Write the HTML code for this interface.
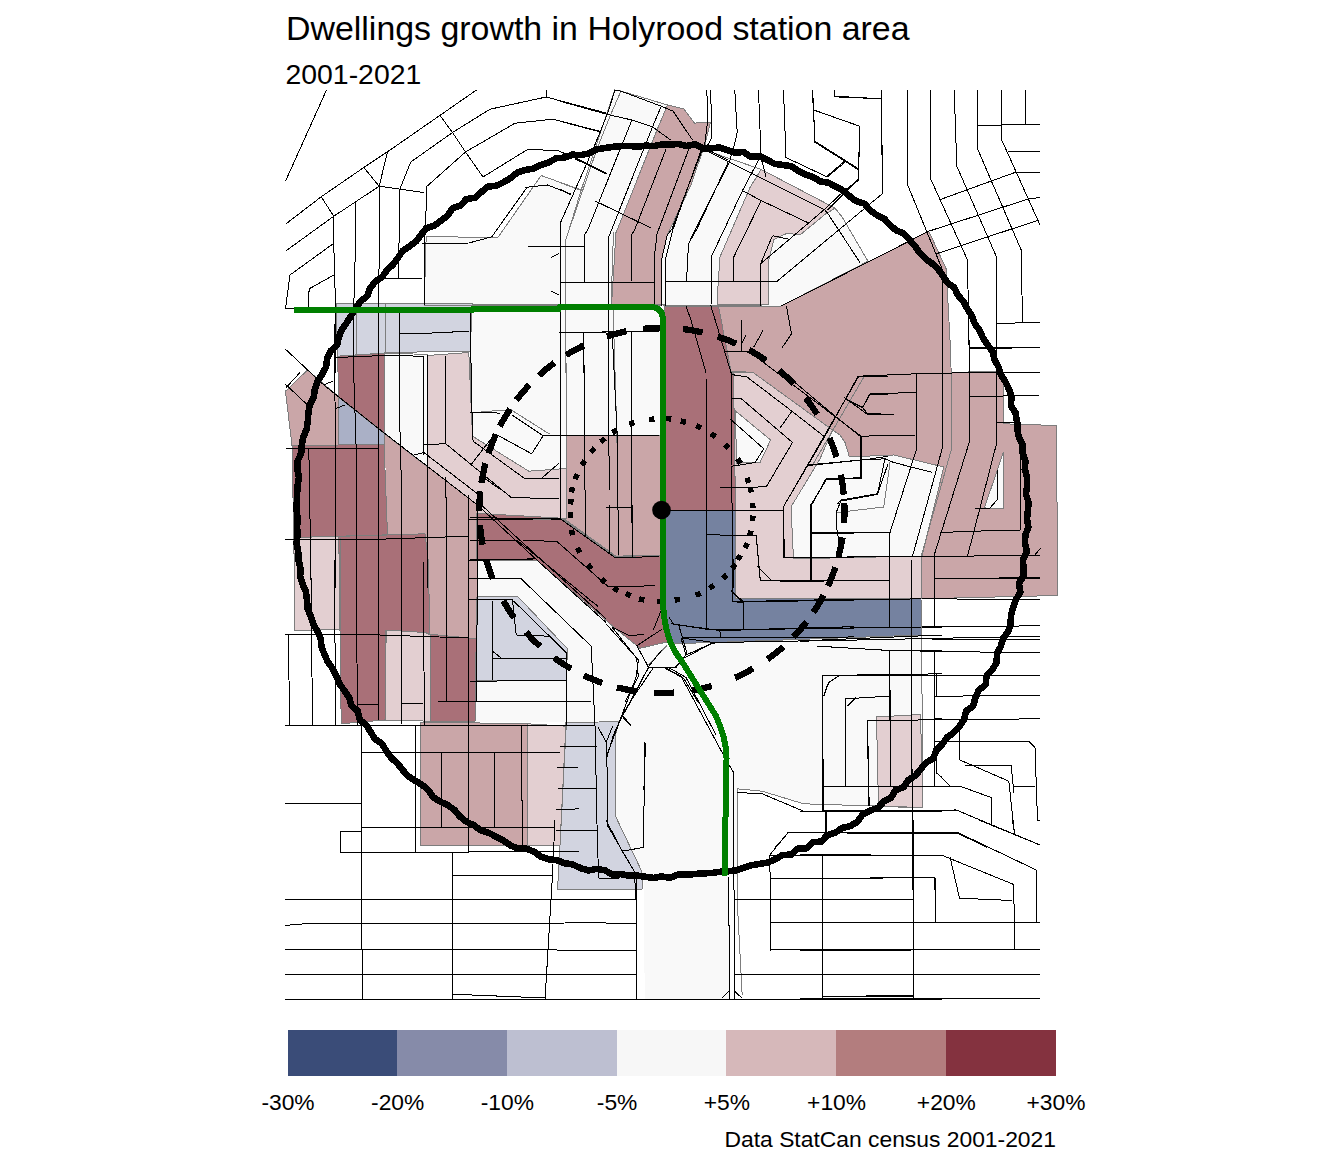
<!DOCTYPE html>
<html><head><meta charset="utf-8"><title>Dwellings growth in Holyrood station area</title>
<style>
html,body{margin:0;padding:0;background:#fff;}
body{width:1344px;height:1152px;overflow:hidden;font-family:"Liberation Sans",sans-serif;}
svg{display:block}
text{font-family:"Liberation Sans",sans-serif;fill:#000}
</style></head><body>
<svg width="1344" height="1152" viewBox="0 0 1344 1152">
<rect width="1344" height="1152" fill="#fff"/>
<defs><clipPath id="c"><rect x="285" y="89" width="776" height="911"/></clipPath></defs>
<g clip-path="url(#c)">

<g shape-rendering="crispEdges" stroke="none">
<path d="M426.2 236.2 L497.5 238 L541.2 175.5 L581.2 190 L614.8 90 L621 91 L667.5 105 L657.5 128.8 L617.5 229 L616 232.5 L611.5 305 L424.2 305Z" fill="#F9F9F9"/>
<path d="M705 150 L761.2 169.4 L835 208.1 L842.5 217.5 L868 261.2 L781 306.2 L661.5 305 L661.5 260 L667.2 235 L691 185 L705 143.8Z" fill="#F9F9F9"/>
<path d="M385 353 L427.5 354.5 L427.5 466.8 L384.5 433.8Z" fill="#F9F9F9"/>
<path d="M472.5 304 L664 304 L664 435 L566 435 L566 468.5 L528.8 471.2 L472.5 436.2 L470 351.2Z" fill="#F9F9F9"/>
<path d="M477 560 L536.7 560 L613.3 626.7 L640 648.3 L638.5 660 L606 722.5 L475 721.5Z" fill="#F9F9F9"/>
<path d="M606 622.5 L638.5 648.8 L668.5 643.8 L713.5 642.5 L921.5 635 L923 807.5 L803.5 803.8 L762.2 791.2 L737.2 788.8 L737.2 877 L728.5 877.5 L729.8 1000 L644.8 1000 L643.5 877.5 L615.2 815.5 L615.6 734.7 L619 721.7 L606 722.5 L638.5 660Z" fill="#F9F9F9"/>
<path d="M832.5 430 L840 435 L845 442.5 L849.4 456.9 L893.8 455 L943.8 467 L922 556 L793.5 558.8 L791 507 L820 458.8Z" fill="#F9F9F9"/>
<path d="M667.5 105 L683.8 108.8 L694.4 123.1 L710.6 122.2 L705 143.8 L691 185 L667.2 235 L661.5 260 L661.5 305 L611.5 305 L616 232.5 L617.5 229 L657.5 128.8Z" fill="#CAA6A8"/>
<path d="M761.2 169.4 L835 208.1 L825 214.4 L800 235 L787.5 233.1 L773.8 239.4 L768.8 260 L768.5 304 L717.2 304 L718.1 284 L720 256.9 L750 187.5Z" fill="#E3CFD1"/>
<path d="M718.5 306.2 L781 306.2 L928.8 231.2 L946.2 268.8 L950 340 L951.2 372.5 L996.2 371.2 L1003.8 373.8 L1003.8 423.8 L1056.2 425.5 L1058 595.5 L921.2 598.8 L922 556.2 L943.8 467 L893.8 455 L849.4 456.9 L845 442.5 L840 435 L832.5 430 L753.1 372.5 L731 371Z" fill="#CAA6A8"/>
<path d="M1003.2 452 L1004 508 L989.5 509 L984.5 507.5 L997 471Z" fill="#F9F9F9"/>
<path d="M664.5 306 L718.5 306.2 L731 371 L733.5 374 L735.5 510 L664.5 510Z" fill="#A97078"/>
<path d="M664.5 510 L735.5 510 L736 598.8 L921 598.8 L921.5 635 L713.5 642.5 L668.5 643.8 L664.5 625Z" fill="#7582A0"/>
<path d="M733.5 372 L753.1 372.5 L832.5 430 L820 458.8 L791 507 L793.5 558.8 L922 556 L921.2 598.8 L736 598.8 L735.5 510Z" fill="#E3CFD1"/>
<path d="M735 410.6 L770.6 440 L760 462.5 L736.9 463.1Z" fill="#F9F9F9"/>
<path d="M336.2 303.8 L472.5 303.8 L470 351.2 L385 352.5 L385 353.2 L337.5 356.2Z" fill="#D2D4E0"/>
<path d="M285.5 391.2 L307.5 370 L338 396.2 L338.8 445 L292 445.5Z" fill="#CAA6A8"/>
<path d="M337.5 356.2 L385 353 L384.5 433 L338.8 397Z" fill="#A97078"/>
<path d="M338.8 397.5 L384.5 433.5 L384 444 L338.8 445Z" fill="#AAB0C6"/>
<path d="M292 445.5 L338.8 445 L384 444 L387.5 535 L293.8 537.5Z" fill="#A97078"/>
<path d="M384.5 433.8 L477.5 505.5 L477 588 L428.8 588 L425 533.8 L387.5 535Z" fill="#CAA6A8"/>
<path d="M427.5 355.5 L468.8 352.5 L472.5 436.2 L528.8 471.2 L566 468.5 L566.5 518.8 L477.5 520 L477.5 505 L427.5 466.5Z" fill="#E3CFD1"/>
<path d="M566.2 435 L664 435 L664 555 L614.8 556.2 L563 519.5 L566.5 519Z" fill="#CAA6A8"/>
<path d="M476.7 513.3 L563.3 518.3 L616.7 556.7 L664 555 L664 613.3 L668 641.7 L640 648.3 L613.3 626.7 L536.7 560 L476.7 560Z" fill="#A97078"/>
<path d="M293.8 537.5 L340 536.2 L340.8 629.5 L295 630.5Z" fill="#E3CFD1"/>
<path d="M338.8 536.2 L425 533.8 L428.2 560 L430 633.8 L425 632.5 L386.2 630 L385 720 L341.2 723.8Z" fill="#A97078"/>
<path d="M385 630 L425 632.5 L430 635 L430 721.2 L385 720Z" fill="#E3CFD1"/>
<path d="M430 634.2 L468.8 638 L477 638.8 L475 721.2 L430 721.2Z" fill="#A97078"/>
<path d="M428.2 547.5 L477 547.5 L477 638.8 L468.8 638 L430 634.2Z" fill="#CAA6A8"/>
<path d="M477 597 L517.5 596.2 L567.5 648.8 L566.2 680 L475.5 680.5Z" fill="#D2D4E0"/>
<path d="M420 722 L527.5 723.8 L527.5 845 L420 845Z" fill="#CAA6A8"/>
<path d="M527.5 723.8 L566.2 726.2 L560 845 L527.5 845Z" fill="#E3CFD1"/>
<path d="M566 722.5 L619 721.7 L615.6 734.7 L615.2 815.5 L641.6 871 L642.5 889 L557.5 890 L560 845Z" fill="#D2D4E0"/>
<path d="M876.5 717 L920.5 714.5 L923 808 L878.5 806.2Z" fill="#E3CFD1"/>
</g>
<g shape-rendering="crispEdges" fill="none" stroke="#7d7d7d" stroke-width="1">
<path d="M426.2 236.2 L497.5 238 L541.2 175.5 L581.2 190 L614.8 90 L621 91 L667.5 105 L657.5 128.8 L617.5 229 L616 232.5 L611.5 305 L424.2 305Z"/>
<path d="M705 150 L761.2 169.4 L835 208.1 L842.5 217.5 L868 261.2 L781 306.2 L661.5 305 L661.5 260 L667.2 235 L691 185 L705 143.8Z"/>
<path d="M385 353 L427.5 354.5 L427.5 466.8 L384.5 433.8Z"/>
<path d="M472.5 304 L664 304 L664 435 L566 435 L566 468.5 L528.8 471.2 L472.5 436.2 L470 351.2Z"/>
<path d="M832.5 430 L840 435 L845 442.5 L849.4 456.9 L893.8 455 L943.8 467 L922 556 L793.5 558.8 L791 507 L820 458.8Z"/>
<path d="M667.5 105 L683.8 108.8 L694.4 123.1 L710.6 122.2 L705 143.8 L691 185 L667.2 235 L661.5 260 L661.5 305 L611.5 305 L616 232.5 L617.5 229 L657.5 128.8Z"/>
<path d="M761.2 169.4 L835 208.1 L825 214.4 L800 235 L787.5 233.1 L773.8 239.4 L768.8 260 L768.5 304 L717.2 304 L718.1 284 L720 256.9 L750 187.5Z"/>
<path d="M718.5 306.2 L781 306.2 L928.8 231.2 L946.2 268.8 L950 340 L951.2 372.5 L996.2 371.2 L1003.8 373.8 L1003.8 423.8 L1056.2 425.5 L1058 595.5 L921.2 598.8 L922 556.2 L943.8 467 L893.8 455 L849.4 456.9 L845 442.5 L840 435 L832.5 430 L753.1 372.5 L731 371Z"/>
<path d="M1003.2 452 L1004 508 L989.5 509 L984.5 507.5 L997 471Z"/>
<path d="M664.5 306 L718.5 306.2 L731 371 L733.5 374 L735.5 510 L664.5 510Z"/>
<path d="M664.5 510 L735.5 510 L736 598.8 L921 598.8 L921.5 635 L713.5 642.5 L668.5 643.8 L664.5 625Z"/>
<path d="M733.5 372 L753.1 372.5 L832.5 430 L820 458.8 L791 507 L793.5 558.8 L922 556 L921.2 598.8 L736 598.8 L735.5 510Z"/>
<path d="M735 410.6 L770.6 440 L760 462.5 L736.9 463.1Z"/>
<path d="M336.2 303.8 L472.5 303.8 L470 351.2 L385 352.5 L385 353.2 L337.5 356.2Z"/>
<path d="M285.5 391.2 L307.5 370 L338 396.2 L338.8 445 L292 445.5Z"/>
<path d="M337.5 356.2 L385 353 L384.5 433 L338.8 397Z"/>
<path d="M338.8 397.5 L384.5 433.5 L384 444 L338.8 445Z"/>
<path d="M292 445.5 L338.8 445 L384 444 L387.5 535 L293.8 537.5Z"/>
<path d="M427.5 355.5 L468.8 352.5 L472.5 436.2 L528.8 471.2 L566 468.5 L566.5 518.8 L477.5 520 L477.5 505 L427.5 466.5Z"/>
<path d="M566.2 435 L664 435 L664 555 L614.8 556.2 L563 519.5 L566.5 519Z"/>
<path d="M476.7 513.3 L563.3 518.3 L616.7 556.7 L664 555 L664 613.3 L668 641.7 L640 648.3 L613.3 626.7 L536.7 560 L476.7 560Z"/>
<path d="M293.8 537.5 L340 536.2 L340.8 629.5 L295 630.5Z"/>
<path d="M338.8 536.2 L425 533.8 L428.2 560 L430 633.8 L425 632.5 L386.2 630 L385 720 L341.2 723.8Z"/>
<path d="M385 630 L425 632.5 L430 635 L430 721.2 L385 720Z"/>
<path d="M430 634.2 L468.8 638 L477 638.8 L475 721.2 L430 721.2Z"/>
<path d="M477 597 L517.5 596.2 L567.5 648.8 L566.2 680 L475.5 680.5Z"/>
<path d="M420 722 L527.5 723.8 L527.5 845 L420 845Z"/>
<path d="M527.5 723.8 L566.2 726.2 L560 845 L527.5 845Z"/>
<path d="M566 722.5 L619 721.7 L615.6 734.7 L615.2 815.5 L641.6 871 L642.5 889 L557.5 890 L560 845Z"/>
<path d="M876.5 717 L920.5 714.5 L923 808 L878.5 806.2Z"/>
<path d="M620.9 91.2 L610 116.2 L597.5 147.5 L569.4 229"/>
<path d="M560 182.5 L581.2 190.6"/>
<path d="M581.2 190 L565.8 240 L565.8 373"/>
<path d="M613.5 232 L611 306"/>
<path d="M565.3 305.3 L566.9 435"/>
<path d="M613 305.3 L616.9 435 L617.7 490"/>
<path d="M480.9 411.6 L511.4 410 L549.7 434.2"/>
<path d="M737.2 787.5 L737.2 900 L742.2 995"/>
<path d="M618.3 510 L618.3 556.7"/>
<path d="M385 303.8 L385 353"/>
<path d="M356.2 303.8 L356.2 355.5"/>
<path d="M890 462.5 L883.8 507 L837.5 512.5"/>
<path d="M951.2 372.5 L951.2 450 L921.2 556.2"/>
<path d="M865 375 L812.5 465"/>
<path d="M921.5 635 L923 807.5 L803.5 803.8 L762.2 791.2 L737.2 788.8 L737.2 820"/>
<path d="M667 645.3 L648 665.1"/>
</g>
<g shape-rendering="crispEdges" fill="none" stroke="#000" stroke-width="1">
<path d="M326.5 90 L285.5 181.2 M476.5 90 L387.5 151.8 L363.8 167.5 L321.2 196.8 L285.5 224.2 M440 115.5 L452.5 132.5 L465.5 152 L483 177 L527.5 149.5 L557.5 150.5 L580 160 L606 173 M546.2 90 L546.2 97 L490 109.2 L452.5 132.5 L410.8 162 L400 188.8 M546.2 97 L606 113 M600 131.2 L552.5 119.2 L515 123.2 L465.5 152 L426.2 187 L426.2 207.5 L424.2 245 L424.2 305 M387.5 151.8 L379.2 186.2 L363.8 167.5 M379.2 186.2 L423.8 192.5 M379.2 186.2 L378.8 373 M399.2 188.8 L399.2 235 L398.2 278.8 M378.8 278.8 L421.8 278.8 M321.2 196.8 L333.8 216.2 L379.2 186.2 M333.8 216.2 L285.5 251.2 M333.8 216.2 L333.8 245 L335.5 305 L335.5 373 M355.5 200.5 L355.5 245 L353.8 305 L353.8 373 M332.5 244.2 L290 275 L285.5 308.8 L295 308.8 M333.8 275 L309.2 288.8 L308 307.5 M525 187.5 L547.5 185 L571.2 194.2 M422.5 243.8 L468.8 243 L491.2 237 M560 223.8 L560 373 M584.5 236.2 L584.5 282.5 M527.5 246.2 L584.5 246.2 M560 282.5 L606 282.5 M551.2 257.5 L558.8 253.8 M551.2 291.2 L558.8 295 M560 332.5 L606 332.5 M583.8 332.5 L583.8 373 M615 90.2 L607.2 114.4 L593.8 147.5 L575.6 188.8 L560 223.8 M615 90.2 L621.2 91.2 L661.2 106.2 L673.1 111.2 L692.5 140 M706.9 90.2 L707.5 122.5 L705 142.5 L671.9 229 M710.6 90.2 L711.5 120 L711.5 137.5 L708.8 143.8 L701.2 150 L673.1 229 M560 101.2 L607.2 114.4 L631.9 120 L652.5 126.9 L670.6 140 M560 121.2 L601.2 132.2 M631.9 120 L588.1 229 M661.2 106.2 L652.5 126.9 L611.9 229 M666.2 148.8 L635 229 M689.4 147.5 L658.8 229 M708.8 150.6 L728 160 M728 162.5 L696.9 229 M575 158.8 L607.5 174.4 M560 188.8 L571.2 195 M595.6 201.2 L651.2 228.1 M588.1 229 L584.5 235 L584.5 282.5 M611.9 229 L608.5 237.5 L608.5 373 M635 229 L631 236 L631 281 M658.8 229 L657.2 232.5 L654 260 L654 305 M672 229 L667.2 235 L661.5 260 L661.5 306 M673 229 L665.2 260 L665.2 306 M696.9 229 L688.5 243.8 L686.5 281.2 M606 282.5 L653.5 282.5 M665.2 281.2 L777.2 281.2 L882.2 193.8 L881.8 90 M760 140 L760.6 156.2 L742.5 190.6 L711.9 255.6 L711 306 M734.8 90 L737.2 132.5 L735.6 140 L729.4 161.9 L700 220 L688.5 243.8 M758.5 90 L760.5 142.5 M761.2 200.6 L733.8 256.9 L733.5 281.2 M772.5 235.6 L789.4 239.4 M772.5 235.6 L760.6 263.8 L760.5 306 M760.6 263.8 L823.8 210 L845 190 L858.8 180 L858.5 168.8 L814.8 141.2 L813.5 110 L812.2 90 M813.5 110 L859.8 126.2 L858.5 168.8 M783.5 90 L786 157.5 L827.2 177 L844.8 162.5 M700 147.5 L728.8 161.9 L751.2 173.1 L825 210 L828.8 215 L860 262.5 M742.5 190.6 L761.2 200.6 L808.8 223.1 M760.6 156.2 L766.2 177.5 M834.2 90 L834.2 96.2 L881.8 98.8 M781 306.2 L928.8 231.2 L1028.8 198.8 L1040 197.5 M812.5 90 L813.8 110 L814.5 142 L858.8 170 L858.8 178.8 L827.5 210 M813.8 110 L859.5 126.2 L858.8 170 M844.5 161.2 L826.2 177 M834.2 90 L834.2 96.8 L881.2 98.8 M881.2 90 L882.5 193.8 M907.5 90 L907.5 184.5 L942.5 270 L942.5 373 M930 90 L930 177.5 L967.5 260 L969.5 373 M954.2 90 L956.8 166.2 L996.2 256.2 L996.2 373 M977.5 90 L977.5 148.8 L1021.2 250 L1022.5 322.5 M1001.2 90 L1001.2 138.8 L1040 225 M1025.5 90 L1025.5 125 M977.5 125.5 L1040 124.2 M1007.5 151.2 L1040 151.2 M1016.2 172 L1040 172 M941.2 199.2 L1016.2 172 M936.2 253.8 L1037.5 220.5 M996.2 323.8 L1040 322 M969.5 348 L1040 347 M335.5 300 L334.5 350 L335.5 450 L335.5 588 M353.8 300 L353.2 357.5 L356.2 450 L357 588 M378.8 300 L378.8 588 M399.2 312.5 L399.2 400 L401.8 500 L401.8 588 M400 333 L432.5 333 L468.8 331.2 M336.2 357.5 L385 355.5 L423 356.2 L423 455 M427 355.5 L428 588 M445.8 355.5 L445.8 443.8 M445.8 477.5 L447 588 M470 312.5 L472 412.5 L473 437.5 M423.8 444.5 L445.8 443.8 L511.2 497.5 L558.8 498.8 M285.5 448.2 L377.5 448.2 M285.5 540 L380 539.2 L468.8 536.2 M308.8 448.2 L311.2 588 M468.8 495 L468.8 588 M468.8 519.5 L560 518.8 M468.8 560.5 L535 558.8 M413.8 455 L423.8 452.5 L477.5 493.8 M285 348.8 L305 367.5 L323.8 385 L378.8 428.8 L477.5 505 L536.8 560 L606 622.5 M480 503.8 L606 618.8 M285 383.8 L307.5 405 M300 372.5 L286.2 387.5 M323.8 385 L332.5 381.2 M335 408.8 L345 405 M560.6 305.3 L560.6 490 M583.8 332.7 L584.8 490 M608.6 305.3 L609.1 490 M631.7 331.1 L631.7 490 M559.1 332.7 L659.1 331.1 M543.4 435 L659.1 435 M470 412.3 L500.5 413.1 M511.4 414.7 L543.1 435.8 L531.7 453.8 L495 433.8 L471.6 463.9 M472.3 428.8 L473.1 441.2 L523.9 478 L559.1 478 M541.9 478 L559.1 463.1 M484.1 478 L501.2 490 M686 306.2 L691 320 L706 372.5 L706.5 588 M711 306.2 L731 372.5 L731 465 L732.2 510 L733.5 588 M741 320 L741 351.2 M723.5 351.2 L748.5 351.2 L861 436.2 L861 478.8 L826 478.8 L811 506.2 L811 581.2 M741 345 L746 335 M753.5 347.5 L763 330.5 M786.5 306.2 L791.5 333.8 L782.2 347.5 M606 507 L631 507 M631 332 L632.2 557.5 M612.2 332 L617.2 435 L618.5 555 M606 435 L659 435 M730.6 374.4 L746.9 376.9 L791.9 411.2 L823.8 436.2 M791.9 411.2 L780 428.1 M730.6 398.1 L740.6 398.1 L792.5 442.5 L766.2 486.9 L720 487.5 M730.6 419.4 L763.8 448.8 L755 462.5 L736.9 465.6 L730.6 466.2 M858.1 376.2 L888 376.2 M858.1 376.2 L825 436.2 L785 504 M844.4 397.5 L867.5 414.4 L888 414.4 M870 394 L862.5 408.1 M870 394 L888 394 M807.5 465.6 L867.5 459.4 L888 456.2 M888 463.8 L877.5 494.4 L840 501.2 L837.5 504 M858.8 376.2 L916.2 373.8 L997 372 L1040 372.5 M858.8 376.2 L807.5 465 L783.8 506.2 L783.8 557.5 L1040 555.5 M916.2 373.8 L916.2 450 L890 532.5 L889.5 628 M942.5 340 L942.5 447.5 L912.5 556.2 M969.2 340 L969.2 442.5 L935 552.5 L934.5 628 M996.2 340 L996.2 445 L967.5 556.2 M997 422.5 L1020 422.5 L1020 530 L973.8 531.2 L940 532.5 M969.2 396.2 L996.2 396.2 L1040 395 M969.2 348.8 L1040 347.5 M870 393.8 L916.2 392.5 M870 393.8 L862.5 407.5 L867.5 413.8 L893.8 414.2 M845 398.8 L862.5 407.5 M860 436.2 L916.2 435 M860 436.2 L860 477.5 L826.2 480 L810 506.2 L810 581.2 M780 370 L833.8 415 L860 436.2 M807.5 465 L861.2 460 L885 458.8 L893.8 462.5 L932.5 472.5 M885 458.8 L877.5 493.8 L841.2 500 L836.2 512.5 L836.2 525 L841.2 556.2 M810 533 L890 532.5 M780 582 L810 581.2 L889.5 580 M935 578.8 L1040 577.5 M975 508 L990 508 L997 500 L997 470 M1033.8 556.2 L1041.2 547.5 M288 634.2 L290 725 M310.8 560 L312.5 725 M334.5 560 L335.5 725 M356.2 560 L357.5 725 M378 560 L378.8 720 M401.8 560 L401.8 723.8 M423 560 L424.5 725 M446.5 560 L447 702 M468.8 560 L468.8 848 M285 634.2 L380 635 L468.8 638 M285 725 L595 725 M357.5 704.5 L378 704.5 M401.8 703.8 L423 703.8 M438 702 L591.2 701.2 M470 681.2 L566.2 680.5 M468.8 599.5 L512.5 600 M468.8 578.8 L521.2 578.8 L591.2 646.2 L595 725 L597.5 848 M492.5 601.2 L492.5 680 M492.5 658.8 L566.2 658 M492.5 651.2 L501.2 658 M512.5 600 L516.2 635 L548.8 636.2 M513.8 601.2 L566.2 652.5 L566.2 725 M361.2 725 L361.2 848 M415 725 L415 848 M361.2 753 L560 752.5 M441.2 752.5 L441.2 827 M494.2 752.5 L494.2 827 M361.2 827 L555 828 M285 803.8 L361.2 803 M340.8 831.2 L361.2 831.2 M340.8 831.2 L340.8 848 M521.2 726.2 L522.5 845 M560 746.2 L597.5 747 M557.5 767.5 L578.8 767 M557.5 788 L597.5 788.8 M556.2 810 L578.8 808.8 M555 830 L597.5 830.5 M911.5 560 L912.2 848 M889.2 560 L889.2 627 M889.8 650.5 L890.5 786.2 M921.5 627 L942 627 M743.5 602 L743.5 628.8 M706.8 560 L706.8 628.8 M671 623.8 L719.8 630.5 L793.5 628.8 L921.5 627 M719.8 630.5 L721 638 M682.2 638 L713.5 642.5 L793.5 641.2 L942 635 M818.5 646.2 L889.8 650.5 L942 650.5 M822.2 675.5 L942 673.8 M822.2 675.5 L823.5 811.2 M839.8 675 L828.5 682.5 L823.5 696.2 M845.5 698.8 L888.5 696.2 M845.5 698.8 L845.5 786.2 M856 697.5 L847.2 706.2 M867.2 720.5 L913.5 720 M867.2 720.5 L869 806.2 M822.2 786.2 L942 786.2 M737.2 792.5 L762.2 793.8 L803.5 811.2 L942 811.2 M826 811.2 L826 832.5 M788.5 832.5 L942 833.8 M788.5 832.5 L774.8 848 M936 673.8 L936 696.2 L942 696.2 M933.5 718.8 L942 718.8 M936 755 L936 772.5 L942 777.5 M606 623.8 L638.5 660 L636 677.5 L606 757.5 M638.5 648.8 L648.5 667.5 L676 667.5 L686 655 L681 638 M648.5 667.5 L635.5 693 L622.5 714.5 L613.5 735 L606 760 M653.5 667.5 L632.2 698.8 L620.8 718.8 L612.5 740 L606.8 756.8 M664.8 667.5 L681 676.2 L723.5 755 L733.5 772.5 L733.5 848 M668.5 667.5 L686 677.5 L716 735 M644.8 742.5 L643.5 848 M686 655 L711 643.8 M621 715 L631 726.2 M733.5 592.5 L743.5 602 L921 598.8 M911.2 560 L911.2 670 L912.5 848 M889.5 560 L889.5 627 M889.5 650.5 L890.5 786.2 M934.5 560 L934.5 627 M934.5 651.2 L935 786.2 M800 581.2 L889.5 580.5 M934.5 578.8 L1040 578 M921.8 598.8 L1040 599.5 M800 628.8 L921.8 627 L1040 625.8 M800 641.2 L1040 636.2 M817.5 646.2 L889.5 650.5 L1040 653 M932.5 640 L1040 639.5 M822.5 675.5 L1040 675 M822.5 675.5 L822.5 811.2 M840 675 L828.8 682.5 L823.8 696.2 M845.5 698.8 L888.8 696.2 M845.5 698.8 L845.5 786.2 M856.2 697.5 L847.5 706.2 M867.5 720.5 L1040 718.8 M867.5 720.5 L869.2 806.2 M822.5 786.2 L960 786.2 L991.2 797.5 L991.2 825 M800 811.2 L956.2 810 L1040 845 M825 811.2 L825 832.5 M800 832.5 L958.8 833.8 L987.5 847.5 M935 696.2 L1040 695.5 M935 741.2 L1028.8 741.2 L1035 747.5 L1037.5 820 L1040 820 M959.5 730 L960 760 L1008.8 781.2 L1014.5 833.8 M965 765 L1011.2 765.5 L1013.8 792.5 M1012.5 786.2 L1035 786.2 M936.2 772.5 L950 786.2 M340.8 831.2 L361.2 831.2 M340.8 831.2 L340.8 852.5 L468.8 852 M361.2 820 L361.2 862.5 L362.5 1000 M415.5 820 L415.5 852 M468.8 820 L468.8 852 L578.8 851.2 M452.5 852 L452.5 1000 M452.5 875 L552.5 875.5 M555 820 L552.5 875 L545 1000 M285 899.5 L606 899.5 M285 925.5 L303.8 923.8 L500 923.8 L606 922.5 M285 949.5 L507.5 949.5 L606 950.5 M285 974.5 L606 974.5 M285 999.5 L606 999.5 M452.5 994.2 L545 998 M361.2 827.5 L555 827.5 M636 877.5 L636.5 1000 M606 899.5 L636 899.5 M606 923 L636 923 M606 950.5 L636 950.5 M606 974.5 L636 974.5 M606 999.5 L942 999 M643.5 820 L643 847.5 L622.2 851.2 M606 820 L622.2 851.2 L633.5 870 M728.5 877.5 L729.8 1000 M733.5 820 L734.8 1000 M722.2 998 L729 991.2 M734.8 991.2 L741.8 998 M734.8 900 L913.5 899.5 M769.8 855 L771 950 L942 949.5 M769.8 855 L942 855.8 M769.8 855 L788 832.5 L942 833.8 M825.5 820 L825.5 832.5 M822.2 855 L822.8 1000 M913 820 L914 1000 M769.8 878.8 L934.8 877.5 L935.5 922.5 M769.8 922.5 L942 922.5 M734.8 974.5 L942 974.5 M822.2 996.2 L913.5 997 M825 820 L825 832.5 M800 832.5 L958.8 833 L1036.2 870 L1036.2 922.5 M978.8 820 L1040 845 M1012.5 820 L1014.5 833.8 M800 854.5 L942.5 855.5 L1013.8 884.5 L1014.5 949.5 M950 857 L959.5 898.2 L1012.5 900.5 M822.5 854.5 L822.5 1000 M912.5 820 L913.8 1000 M800 878.8 L935 877.5 L935.8 922.5 M822.5 900 L913.8 899.5 M800 922.5 L1040 922.5 M800 950.5 L907.5 950.5 L913.8 949.5 L1040 949.5 M800 974.5 L1040 974.5 M800 999 L1040 998 M822.5 996.2 L913.8 995.8 M706.7 534.7 L732 535.3 L756.2 535.3 L760.3 580.8 L854 580.8 M732 510 L732 601.7 L743.7 602.5 L743.7 629.2 M757 565.8 L772 580.8 M731.2 590.8 L742 601.7 M783.3 510 L784.5 557.5 L854 557.2 M810.3 510 L810.3 580.8 M810.3 533.3 L854 533.3 M732 601.7 L854 599.2 M668.7 616.7 L673.7 624.2 L706.7 629.2 L762 629.2 L854 626.7 M682 637.5 L828.7 638 L854 636.7 M678.7 625 L687 653.3 L683.7 658.3 L712 643.3 L720.3 642.5 M662 667.5 L674.5 667.5 L683.7 658.3 M665.3 668.3 L683.7 678.3 L697.8 702 M470 517.5 L560.8 519.2 L615 557.5 L659.2 556.7 M477.5 510 L476.7 702 M470 540.5 L515 540.5 M470 560 L533.3 559.2 M523.3 540.5 L556.7 541.3 L608.3 586.7 L655 585.8 M585 490 L585 536.7 M609.2 505 L609.2 554.2 M632.5 505 L632.5 557.5 M516.7 540 L598.3 606.7 M611.7 626.7 L636.7 658.3 L638.3 676.7 L625 702 M662 629.2 L636.7 645.8 L648.3 666.7 L662 650 M648.3 667.5 L630 702 M653.3 630 L662 608.3 M664 510.8 L745 510.2 L783.5 510 M560.6 488 L560.6 519 M597.7 726.6 L606.3 742.2 M612.6 726.2 L606.3 742.2 L606 758.3 M645.5 742.6 L643.9 790 M622.5 715.4 L630.7 725.3 M612.6 627.2 L629.1 635.5 L643.9 634.6 M589.5 600 L597.7 605.8 M606.9 757 L607.7 826 L634.7 872 L635.5 900 M597.5 848 L599 878 L619 878 M527.4 186.8 L491.6 237.1"/>
</g>

<g fill="none" stroke="#000" shape-rendering="crispEdges">
<path d="M1027.9 510.4 L1027.0 518.6 L1028.3 526.9 L1025.5 534.9 L1024.8 543.1 L1027.2 551.6 L1023.0 559.3 L1023.4 567.7 L1023.6 576.0 L1018.9 583.5 L1020.3 592.2 L1016.0 599.6 L1013.2 607.3 L1010.9 615.2 L1010.7 623.7 L1008.1 631.5 L1003.1 638.4 L1000.8 646.4 L997.0 653.6 L996.6 662.4 L992.4 669.5 L986.6 675.8 L985.6 684.6 L978.8 690.2 L975.4 697.7 L973.2 706.0 L966.0 711.1 L964.1 719.7 L959.3 726.5 L953.7 732.6 L946.8 737.6 L942.2 744.4 L936.3 750.2 L933.2 758.4 L925.9 762.8 L920.7 769.2 L915.4 775.5 L908.3 780.0 L903.8 787.2 L895.4 790.1 L891.1 797.8 L883.6 801.6 L878.0 807.8 L869.9 810.6 L862.6 814.5 L857.5 821.7 L850.4 826.0 L842.1 828.0 L835.3 832.7 L827.3 835.1 L821.4 841.6 L812.6 842.2 L806.4 848.4 L797.6 848.6 L791.1 854.6 L782.5 855.1 L775.2 859.2 L767.6 862.5 L759.5 864.0 L751.3 865.3 L743.5 868.0 L735.6 870.5 L727.4 871.3 L719.2 871.9 L711.0 873.1 L702.8 873.3 L694.6 874.1 L686.5 874.8 L678.2 874.4 L670.1 877.9 L661.9 876.4 L653.7 877.9 L645.4 876.8 L637.3 875.6 L629.0 875.7 L620.9 874.1 L612.6 874.7 L604.9 870.3 L596.8 868.9 L588.2 870.5 L580.3 868.0 L572.7 864.5 L564.5 863.2 L556.9 860.2 L548.6 859.2 L540.8 856.6 L533.9 851.6 L526.2 848.6 L517.4 848.4 L509.9 845.1 L503.1 840.2 L495.7 836.5 L488.5 832.7 L480.5 830.1 L473.8 825.3 L466.3 821.7 L459.8 816.5 L454.4 809.9 L447.7 805.2 L440.2 801.6 L433.2 797.2 L428.4 790.1 L422.1 784.8 L415.0 780.6 L407.9 776.1 L402.5 769.8 L397.4 763.3 L391.2 757.9 L386.3 751.2 L382.2 743.9 L375.1 739.1 L370.7 732.1 L366.4 725.1 L359.7 719.7 L357.8 711.1 L351.3 705.5 L349.1 697.3 L344.3 690.6 L339.6 683.8 L336.5 676.2 L332.9 668.9 L327.9 662.1 L324.6 654.6 L321.5 647.0 L320.7 638.4 L317.2 631.0 L313.1 623.7 L310.6 615.9 L307.5 608.2 L307.0 599.8 L305.9 591.7 L302.6 584.0 L300.2 576.0 L300.4 567.7 L298.4 559.6 L298.2 551.4 L296.6 543.3 L297.5 535.0 L297.1 526.8 L297.6 518.6 L296.7 510.4 L296.8 502.2 L297.1 494.0 L297.5 485.8 L299.0 477.7 L297.4 469.3 L297.6 461.1 L301.2 453.3 L301.8 445.0 L303.3 437.0 L306.6 429.3 L307.8 421.2 L308.3 412.8 L309.8 404.7 L313.8 397.3 L314.9 389.0 L317.7 381.2 L322.2 374.1 L326.1 366.9 L327.2 358.4 L330.7 350.9 L337.2 345.0 L338.9 336.6 L342.2 329.0 L347.0 322.3 L351.3 315.3 L355.8 308.3 L360.4 301.5 L367.1 296.2 L370.1 288.2 L375.1 281.7 L382.2 276.9 L386.9 270.1 L392.9 264.6 L397.9 258.0 L402.5 251.0 L409.5 246.4 L416.1 241.4 L421.1 234.8 L426.3 228.2 L434.7 225.5 L441.2 220.5 L447.7 215.6 L452.6 208.2 L460.7 205.6 L466.3 199.1 L475.0 197.6 L481.3 192.1 L487.7 186.7 L496.5 185.7 L503.8 182.1 L510.9 177.9 L517.4 172.4 L525.3 170.0 L533.6 168.5 L541.0 164.9 L548.8 162.3 L556.2 158.3 L564.5 157.6 L572.3 154.7 L580.8 155.1 L588.8 153.4 L596.4 149.5 L604.5 148.1 L612.7 146.9 L620.8 145.9 L629.1 145.9 L637.4 146.8 L645.5 145.6 L653.7 146.1 L661.9 144.4 L670.1 144.5 L678.4 144.0 L686.5 146.0 L694.9 144.3 L702.7 148.3 L710.9 148.5 L719.4 147.3 L727.3 150.3 L735.2 152.6 L743.7 152.0 L750.9 157.0 L759.7 156.0 L767.2 159.9 L774.5 163.8 L782.8 164.9 L791.1 166.2 L798.2 170.7 L805.4 174.6 L813.3 177.2 L820.4 181.4 L828.8 182.9 L836.1 186.7 L843.3 190.7 L849.6 196.2 L856.2 201.2 L864.4 203.6 L869.9 210.2 L876.6 214.9 L884.1 218.6 L889.6 224.9 L895.9 230.1 L903.8 233.6 L909.4 239.7 L914.8 245.9 L919.6 252.7 L925.3 258.6 L932.1 263.5 L938.1 269.1 L942.9 275.8 L947.4 282.7 L954.4 287.7 L958.0 295.3 L963.4 301.5 L967.4 308.8 L971.8 315.7 L974.7 323.5 L979.5 330.2 L982.8 337.7 L987.3 344.6 L992.4 351.3 L994.4 359.4 L998.4 366.6 L1000.8 374.4 L1005.3 381.5 L1008.9 389.0 L1011.5 396.8 L1010.9 405.6 L1015.5 412.8 L1016.8 421.0 L1017.2 429.3 L1018.9 437.3 L1022.8 444.9 L1022.6 453.3 L1025.4 461.2 L1024.8 469.5 L1027.2 477.5 L1027.1 485.8 L1025.9 494.1 L1028.6 502.2Z" stroke-width="6.6" stroke-linejoin="round"/>
<path d="M844.3 502.9 A182.6 182.6 0 0 1 844.1 523.0 M842.5 537.5 A182.6 182.6 0 0 1 838.4 557.2 M835.4 567.3 A182.6 182.6 0 0 1 828.1 586.0 M823.6 595.1 A182.6 182.6 0 0 1 813.4 612.4 M806.5 621.9 A182.6 182.6 0 0 1 793.4 637.1 M783.3 646.8 A182.6 182.6 0 0 1 767.5 659.3 M753.1 668.6 A182.6 182.6 0 0 1 735.1 677.7 M711.8 686.1 A182.6 182.6 0 0 1 692.2 690.5 M674.2 692.6 A182.6 182.6 0 0 1 654.1 692.8 M636.6 691.2 A182.6 182.6 0 0 1 617.0 687.4 M602.3 683.0 A182.6 182.6 0 0 1 583.7 675.4 M571.0 668.8 A182.6 182.6 0 0 1 554.2 657.8 M540.1 646.4 A182.6 182.6 0 0 1 525.9 632.2 M514.1 617.6 A182.6 182.6 0 0 1 503.2 600.7 M492.7 579.0 A182.6 182.6 0 0 1 486.2 560.0 M482.6 544.8 A182.6 182.6 0 0 1 479.9 524.9 M479.3 511.4 A182.6 182.6 0 0 1 480.3 491.3 M481.4 482.9 A182.6 182.6 0 0 1 485.5 463.3 M488.5 453.2 A182.6 182.6 0 0 1 495.8 434.5 M499.9 426.2 A182.6 182.6 0 0 1 510.1 409.0 M516.4 400.1 A182.6 182.6 0 0 1 529.3 384.8 M538.9 375.5 A182.6 182.6 0 0 1 554.4 362.8 M566.1 355.0 A182.6 182.6 0 0 1 583.7 345.4 M606.8 336.3 A182.6 182.6 0 0 1 626.3 331.3 M643.3 328.8 A182.6 182.6 0 0 1 663.3 327.8 M682.9 329.0 A182.6 182.6 0 0 1 702.7 332.4 M717.6 336.5 A182.6 182.6 0 0 1 736.3 343.7 M748.9 349.9 A182.6 182.6 0 0 1 766.0 360.4 M779.2 370.4 A182.6 182.6 0 0 1 793.8 384.1 M805.7 397.9 A182.6 182.6 0 0 1 817.2 414.3 M829.5 438.0 A182.6 182.6 0 0 1 836.5 456.9 M841.0 474.8 A182.6 182.6 0 0 1 843.8 494.6" stroke-width="6.3"/>
</g>
<g fill="#000" shape-rendering="crispEdges"><rect x="649.0" y="416.6" width="5.4" height="5.4" transform="rotate(-96 651.7 419.3)"/><rect x="629.0" y="420.6" width="5.4" height="5.4" transform="rotate(-109 631.7 423.3)"/><rect x="612.0" y="428.6" width="5.4" height="5.4" transform="rotate(-121 614.7 431.3)"/><rect x="600.1" y="437.5" width="5.4" height="5.4" transform="rotate(-130 602.8 440.2)"/><rect x="590.1" y="447.5" width="5.4" height="5.4" transform="rotate(-139 592.8 450.2)"/><rect x="580.6" y="460.3" width="5.4" height="5.4" transform="rotate(-149 583.3 463.0)"/><rect x="573.6" y="474.0" width="5.4" height="5.4" transform="rotate(-159 576.3 476.7)"/><rect x="569.3" y="487.0" width="5.4" height="5.4" transform="rotate(-167 572.0 489.7)"/><rect x="568.1" y="499.1" width="5.4" height="5.4" transform="rotate(-175 570.8 501.8)"/><rect x="666.0" y="416.1" width="5.4" height="5.4" transform="rotate(-86 668.7 418.8)"/><rect x="680.6" y="419.0" width="5.4" height="5.4" transform="rotate(-76 683.3 421.7)"/><rect x="696.0" y="424.0" width="5.4" height="5.4" transform="rotate(-66 698.7 426.7)"/><rect x="710.6" y="432.5" width="5.4" height="5.4" transform="rotate(-56 713.3 435.2)"/><rect x="724.0" y="443.6" width="5.4" height="5.4" transform="rotate(-45 726.7 446.3)"/><rect x="736.3" y="458.3" width="5.4" height="5.4" transform="rotate(-33 739.0 461.0)"/><rect x="745.1" y="477.8" width="5.4" height="5.4" transform="rotate(-19 747.8 480.5)"/><rect x="748.0" y="487.0" width="5.4" height="5.4" transform="rotate(-13 750.7 489.7)"/><rect x="750.1" y="502.8" width="5.4" height="5.4" transform="rotate(-3 752.8 505.5)"/><rect x="750.1" y="515.6" width="5.4" height="5.4" transform="rotate(5 752.8 518.3)"/><rect x="747.6" y="530.6" width="5.4" height="5.4" transform="rotate(15 750.3 533.3)"/><rect x="743.5" y="542.8" width="5.4" height="5.4" transform="rotate(23 746.2 545.5)"/><rect x="736.3" y="554.8" width="5.4" height="5.4" transform="rotate(31 739.0 557.5)"/><rect x="731.3" y="563.6" width="5.4" height="5.4" transform="rotate(38 734.0 566.3)"/><rect x="722.1" y="574.0" width="5.4" height="5.4" transform="rotate(47 724.8 576.7)"/><rect x="709.0" y="584.0" width="5.4" height="5.4" transform="rotate(57 711.7 586.7)"/><rect x="695.5" y="591.5" width="5.4" height="5.4" transform="rotate(67 698.2 594.2)"/><rect x="674.6" y="597.0" width="5.4" height="5.4" transform="rotate(80 677.3 599.7)"/><rect x="657.3" y="599.0" width="5.4" height="5.4" transform="rotate(91 660.0 601.7)"/><rect x="639.0" y="596.8" width="5.4" height="5.4" transform="rotate(103 641.7 599.5)"/><rect x="625.6" y="592.0" width="5.4" height="5.4" transform="rotate(112 628.3 594.7)"/><rect x="613.1" y="586.5" width="5.4" height="5.4" transform="rotate(120 615.8 589.2)"/><rect x="600.6" y="578.1" width="5.4" height="5.4" transform="rotate(130 603.3 580.8)"/><rect x="587.0" y="564.0" width="5.4" height="5.4" transform="rotate(142 589.7 566.7)"/><rect x="576.0" y="547.6" width="5.4" height="5.4" transform="rotate(154 578.7 550.3)"/><rect x="569.3" y="529.8" width="5.4" height="5.4" transform="rotate(166 572.0 532.5)"/><rect x="567.8" y="512.3" width="5.4" height="5.4" transform="rotate(177 570.5 515.0)"/></g>
<path d="M294 310 H472 L473 308.5 H559 L560 307 H650 Q663 307 663 321 L663 600 Q664 640 681 660 L716 716 Q727 740 726.5 760 L724.5 876" fill="none" stroke="#007F00" stroke-width="6" shape-rendering="crispEdges"/>
<circle cx="661.5" cy="510" r="9.3" fill="#000"/>

</g>

<text x="286" y="40" font-size="33.9">Dwellings growth in Holyrood station area</text>
<text x="285.5" y="84" font-size="28.4">2001-2021</text>
<g shape-rendering="crispEdges">
<rect x="288" y="1030" width="110" height="46" fill="#3A4C78"/>
<rect x="397" y="1030" width="110" height="46" fill="#868BA9"/>
<rect x="507" y="1030" width="111" height="46" fill="#BDBFD1"/>
<rect x="617" y="1030" width="110" height="46" fill="#F7F7F7"/>
<rect x="726" y="1030" width="110" height="46" fill="#D6B8BA"/>
<rect x="836" y="1030" width="111" height="46" fill="#B37D7E"/>
<rect x="946" y="1030" width="110" height="46" fill="#84323F"/>
</g>
<g font-size="22.8" text-anchor="middle">
<text x="288" y="1109.5">-30%</text><text x="397.7" y="1109.5">-20%</text><text x="507.4" y="1109.5">-10%</text><text x="617.1" y="1109.5">-5%</text>
<text x="726.9" y="1109.5">+5%</text><text x="836.6" y="1109.5">+10%</text><text x="946.3" y="1109.5">+20%</text><text x="1056" y="1109.5">+30%</text>
</g>
<text x="1056" y="1146.5" font-size="22.85" text-anchor="end">Data StatCan census 2001-2021</text>

</svg></body></html>
